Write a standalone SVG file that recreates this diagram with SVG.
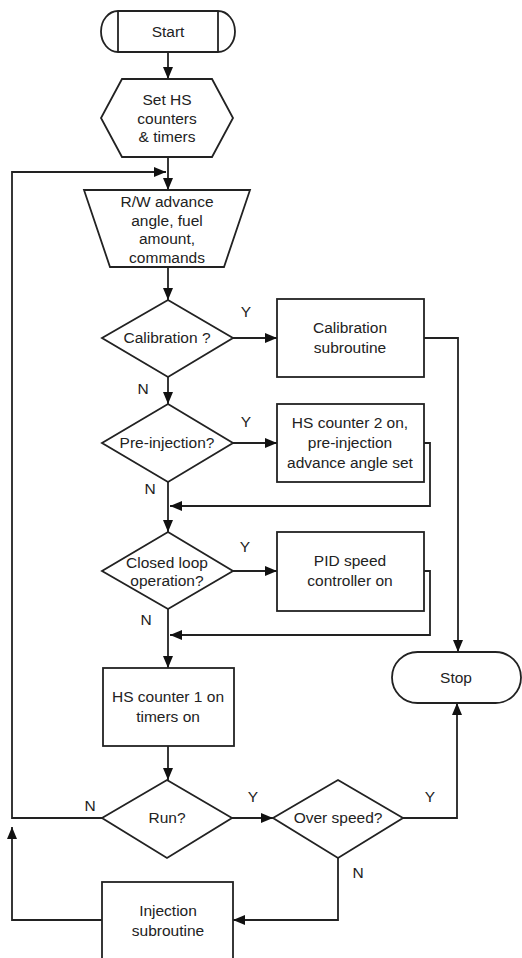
<svg xmlns="http://www.w3.org/2000/svg" width="522" height="958" viewBox="0 0 522 958">
<style>
.s{fill:#fff;stroke:#222;stroke-width:1.8}
.c{fill:none;stroke:#222;stroke-width:1.8}
text{font-family:"Liberation Sans",Arial,sans-serif;font-size:15.5px;fill:#222;text-anchor:middle}
</style>
<defs>
<marker id="a" markerUnits="userSpaceOnUse" markerWidth="12" markerHeight="10" refX="12" refY="5" orient="auto">
<path d="M0,0 L12,5 L0,10 z" fill="#111"/>
</marker>
</defs>
<rect width="522" height="958" fill="#fff"/>
<g id="connectors">
<line class="c" x1="168" y1="52" x2="168" y2="79" marker-end="url(#a)"/>
<line class="c" x1="168" y1="157" x2="168" y2="190" marker-end="url(#a)"/>
<path class="c" d="M102,818 H12 V172 H166" marker-end="url(#a)"/>
<path class="c" d="M102,920 H12 V827" marker-end="url(#a)"/>
<line class="c" x1="168" y1="267" x2="168" y2="300" marker-end="url(#a)"/>
<line class="c" x1="233" y1="338" x2="277" y2="338" marker-end="url(#a)"/>
<path class="c" d="M424,338 H458 V652" marker-end="url(#a)"/>
<line class="c" x1="168" y1="377" x2="168" y2="404" marker-end="url(#a)"/>
<line class="c" x1="233" y1="443" x2="277" y2="443" marker-end="url(#a)"/>
<path class="c" d="M424,443 H430 V506 H170" marker-end="url(#a)"/>
<line class="c" x1="168" y1="482" x2="168" y2="532" marker-end="url(#a)"/>
<line class="c" x1="233" y1="571" x2="277" y2="571" marker-end="url(#a)"/>
<path class="c" d="M424,571 H430 V635 H170" marker-end="url(#a)"/>
<line class="c" x1="168" y1="609" x2="168" y2="668" marker-end="url(#a)"/>
<line class="c" x1="168" y1="746" x2="168" y2="780" marker-end="url(#a)"/>
<line class="c" x1="232" y1="818" x2="273" y2="818" marker-end="url(#a)"/>
<path class="c" d="M403,818 H457 V703" marker-end="url(#a)"/>
<path class="c" d="M338,858 V920 H233" marker-end="url(#a)"/>
<text x="246" y="317">Y</text>
<text x="143" y="394">N</text>
<text x="246" y="427">Y</text>
<text x="150" y="494">N</text>
<text x="245" y="552">Y</text>
<text x="146" y="625">N</text>
<text x="253" y="802">Y</text>
<text x="430" y="802">Y</text>
<text x="90" y="811">N</text>
<text x="358" y="878">N</text>
</g>
<g id="start">
<path class="s" d="M118,11 H218 A17,20.5 0 0 1 218,52 H118 A17,20.5 0 0 1 118,11 Z"/>
<line class="c" x1="118" y1="11" x2="118" y2="52"/>
<line class="c" x1="218" y1="11" x2="218" y2="52"/>
<text x="168" y="37">Start</text>
</g>
<g id="set-hs">
<polygon class="s" points="122,79 212,79 233,118 212,157 122,157 101,118"/>
<text x="167" y="105">Set HS</text>
<text x="167" y="124">counters</text>
<text x="167" y="142">&amp; timers</text>
</g>
<g id="rw">
<polygon class="s" points="84,190 250,190 224,267 110,267"/>
<text x="167" y="207">R/W advance</text>
<text x="167" y="226">angle, fuel</text>
<text x="167" y="244">amount,</text>
<text x="167" y="263">commands</text>
</g>
<g id="calibration">
<polygon class="s" points="168,300 233,338 168,377 102,338"/>
<text x="167" y="343">Calibration ?</text>
</g>
<g id="cal-sub">
<rect class="s" x="277" y="299" width="147" height="78"/>
<text x="350" y="333">Calibration</text>
<text x="350" y="353">subroutine</text>
</g>
<g id="pre-injection">
<polygon class="s" points="168,404 233,443 168,482 102,443"/>
<text x="167" y="448">Pre-injection?</text>
</g>
<g id="hs2">
<rect class="s" x="277" y="404" width="147" height="78"/>
<text x="350" y="428">HS counter 2 on,</text>
<text x="350" y="448">pre-injection</text>
<text x="350" y="468">advance angle set</text>
</g>
<g id="closed-loop">
<polygon class="s" points="168,532 233,571 168,609 102,571"/>
<text x="167" y="568">Closed loop</text>
<text x="167" y="586">operation?</text>
</g>
<g id="pid">
<rect class="s" x="277" y="532" width="147" height="79"/>
<text x="350" y="566">PID speed</text>
<text x="350" y="586">controller on</text>
</g>
<g id="hs1">
<rect class="s" x="103" y="668" width="131" height="78"/>
<text x="168" y="702">HS counter 1 on</text>
<text x="168" y="722">timers on</text>
</g>
<g id="stop">
<rect class="s" x="392" y="652" width="129" height="51" rx="25.5"/>
<text x="456" y="683">Stop</text>
</g>
<g id="run">
<polygon class="s" points="167,780 232,818 167,858 102,818"/>
<text x="167" y="823">Run?</text>
</g>
<g id="over-speed">
<polygon class="s" points="338,780 403,818 338,858 273,818"/>
<text x="338" y="823">Over speed?</text>
</g>
<g id="injection">
<rect class="s" x="102" y="882" width="131" height="90"/>
<text x="168" y="916">Injection</text>
<text x="168" y="936">subroutine</text>
</g>
</svg>
